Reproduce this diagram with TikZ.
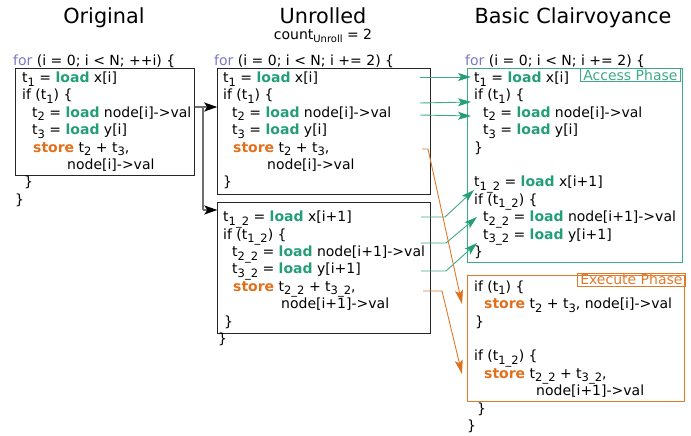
\documentclass[tikz,border=0pt]{standalone}
\usepackage{fontspec}
\setmainfont{DejaVu Sans}
\usetikzlibrary{arrows.meta}

\definecolor{kwfor}{HTML}{7B78C2}
\definecolor{kwload}{HTML}{239E78}
\definecolor{kwstore}{HTML}{E0701C}
\definecolor{accgreen}{HTML}{3DAA86}
\definecolor{exorange}{HTML}{E07A2A}
\definecolor{flowgray}{HTML}{6E6E6E}

\newcommand\FOR{\textcolor{kwfor}{for}}
\newcommand\LD{\textcolor{kwload}{\bfseries load}}
\newcommand\ST{\textcolor{kwstore}{\bfseries store}}
\newcommand\subs[1]{\raisebox{-3.5pt}{\fontsize{11.5}{11.5}\selectfont #1}}
\newcommand\smallsubs[1]{\raisebox{-3pt}{\fontsize{10}{10}\selectfont #1}}

% one line of code: name, x, row index, text
\newcommand\codeline[4]{\node[code] (#1) at (#2,{65.1+17.4*#3}) {#4};}

\tikzset{
  code/.style={anchor=base west, inner sep=0pt, font=\fontsize{14}{16}\selectfont},
  title/.style={anchor=base, inner sep=0pt, font=\fontsize{20.8}{24}\selectfont},
  codebox/.style={draw=black!85, line width=1pt, inner sep=0pt},
  phasebox/.style={line width=1pt, inner sep=0pt},
  phaselabel/.style={line width=1pt, anchor=north east, inner xsep=2.5pt, inner ysep=1.5pt,
    text height=10pt, text depth=0pt, font=\fontsize{14}{16}\selectfont},
  flow/.style={draw=flowgray, line width=1.3pt},
  flowarrow/.style={flow, -{Stealth[length=13pt,width=9pt,inset=3pt,color=black]}},
  accarrow/.style={draw=accgreen, line width=0.9pt, -{Stealth[length=13pt,width=8pt,inset=3pt,color=kwload]}},
  exarrow/.style={draw=exorange, line width=0.9pt, -{Stealth[length=14pt,width=8pt,inset=3pt,color=kwstore]}},
}

\begin{document}
\begin{tikzpicture}[x=1pt,y=-1pt]
\useasboundingbox (0,0) rectangle (691,436);

% titles
\node[title] (tOrig) at (104,23.5) {Original};
\node[title] (tUnr) at (323,23.5) {Unrolled};
\node[anchor=base, inner sep=0pt, font=\fontsize{14}{16}\selectfont] (tCount) at (323,40) {count\smallsubs{Unroll} = 2};
\node[title] (tClair) at (573,23.5) {Basic Clairvoyance};

% boxes
\node[codebox, minimum width=179pt, minimum height=106pt] (ob) at (104.5,122) {};
\node[codebox, minimum width=213pt, minimum height=125pt] (ub1) at (324.2,131.5) {};
\node[codebox, minimum width=213pt, minimum height=131pt] (ub2) at (324.3,267.5) {};
\node[phasebox, draw=accgreen, minimum width=215pt, minimum height=193pt] (acc) at (574.5,165.5) {};
\node[phasebox, draw=exorange, minimum width=217pt, minimum height=126pt] (exe) at (575.5,338) {};
\node[phaselabel, draw=accgreen, text=accgreen] (accLab) at ([xshift=-2pt]acc.north east) {Access Phase};
\node[phaselabel, draw=exorange, text=exorange] (exeLab) at ([yshift=2pt,xshift=1pt]exe.north east) {Execute Phase};

% original loop
\codeline{o0}{13}{0}{\FOR{} (i = 0; i < N; ++i) \{}
\codeline{o1}{22}{1}{t\subs{1} = \LD{} x[i]}
\codeline{o2}{22}{2}{if (t\subs{1}) \{}
\codeline{o3}{32}{3}{t\subs{2} = \LD{} node[i]->val}
\codeline{o4}{32}{4}{t\subs{3} = \LD{} y[i]}
\codeline{o5}{33}{5}{\ST{} t\subs{2} + t\subs{3},}
\codeline{o6}{67}{6}{node[i]->val}
\codeline{o7}{24}{7}{\}}
\codeline{o8}{15}{8}{\}}

% unrolled loop, first copy
\codeline{u0}{214}{0}{\FOR{} (i = 0; i < N; i += 2) \{}
\codeline{u1}{223}{1}{t\subs{1} = \LD{} x[i]}
\codeline{u2}{223}{2}{if (t\subs{1}) \{}
\codeline{u3}{232}{3}{t\subs{2} = \LD{} node[i]->val}
\codeline{u4}{232}{4}{t\subs{3} = \LD{} y[i]}
\codeline{u5}{233}{5}{\ST{} t\subs{2} + t\subs{3},}
\codeline{u6}{267}{6}{node[i]->val}
\codeline{u7}{223}{7}{\}}

% unrolled loop, second copy
\codeline{v1}{223}{9}{t\subs{1\_2} = \LD{} x[i+1]}
\codeline{v2}{223}{10}{if (t\subs{1\_2}) \{}
\codeline{v3}{232}{11}{t\subs{2\_2} = \LD{} node[i+1]->val}
\codeline{v4}{232}{12}{t\subs{3\_2} = \LD{} y[i+1]}
\codeline{v5}{233}{13}{\ST{} t\subs{2\_2} + t\subs{3\_2},}
\codeline{v6}{281}{14}{node[i+1]->val}
\codeline{v7}{224}{15}{\}}
\codeline{v8}{218}{16}{\}}

% clairvoyance: access phase
\codeline{c0}{465}{0}{\FOR{} (i = 0; i < N; i += 2) \{}
\codeline{c1}{474}{1}{t\subs{1} = \LD{} x[i]}
\codeline{c2}{474}{2}{if (t\subs{1}) \{}
\codeline{c3}{483}{3}{t\subs{2} = \LD{} node[i]->val}
\codeline{c4}{483}{4}{t\subs{3} = \LD{} y[i]}
\codeline{c5}{474}{5}{\}}
\codeline{c6}{474}{7}{t\subs{1\_2} = \LD{} x[i+1]}
\codeline{c7}{474}{8}{if (t\subs{1\_2}) \{}
\codeline{c8}{483}{9}{t\subs{2\_2} = \LD{} node[i+1]->val}
\codeline{c9}{483}{10}{t\subs{3\_2} = \LD{} y[i+1]}
\codeline{c10}{474}{11}{\}}

% clairvoyance: execute phase
\codeline{e1}{474}{13}{if (t\subs{1}) \{}
\codeline{e2}{484}{14}{\ST{} t\subs{2} + t\subs{3}, node[i]->val}
\codeline{e3}{475}{15}{\}}
\codeline{e4}{474}{17}{if (t\subs{1\_2}) \{}
\codeline{e5}{484}{18}{\ST{} t\subs{2\_2} + t\subs{3\_2},}
\codeline{e6}{536}{19}{node[i+1]->val}
\codeline{e7}{477}{20}{\}}
\codeline{e8}{467}{21}{\}}

% unrolling fork
\coordinate (fork) at (203,107);
\coordinate (fork2) at (203,210);
\draw[flow] (ob.east |- fork) -- (fork) -- (fork2);
\draw[flowarrow] (fork) -- (ub1.west |- fork);
\draw[flowarrow] (fork2) -- (ub2.west |- fork2);

% loads moved into the access phase
\coordinate (la1) at (420,77);   \coordinate (ta1) at (471,77);
\coordinate (la2) at (420,103);  \coordinate (ta2) at (471,102);
\coordinate (la3) at (420,115);  \coordinate (ta3) at (471,116);
\draw[accarrow] (la1) -- (ta1);
\draw[accarrow] (la2) -- (ta2);
\draw[accarrow] (la3) -- (ta3);

\coordinate (lb1) at (421,217);  \coordinate (kb1) at (445,217);  \coordinate (tb1) at (474,190);
\coordinate (lb2) at (421,243);  \coordinate (kb2) at (446,243);  \coordinate (tb2) at (477,217);
\coordinate (lb3) at (421,271);  \coordinate (kb3) at (446,271);  \coordinate (tb3) at (477,243);
\draw[accarrow] (lb1) -- (kb1) -- (tb1);
\draw[accarrow] (lb2) -- (kb2) -- (tb2);
\draw[accarrow] (lb3) -- (kb3) -- (tb3);

% stores moved into the execute phase
\coordinate (sa) at (422,149);  \coordinate (ka) at (428,149);  \coordinate (tsa) at (462,304);
\coordinate (sb) at (423,291);  \coordinate (kb) at (442,291);  \coordinate (tsb) at (462,374);
\draw[exarrow] (sa) -- (ka) -- (tsa);
\draw[exarrow] (sb) -- (kb) -- (tsb);
\end{tikzpicture}
\end{document}
